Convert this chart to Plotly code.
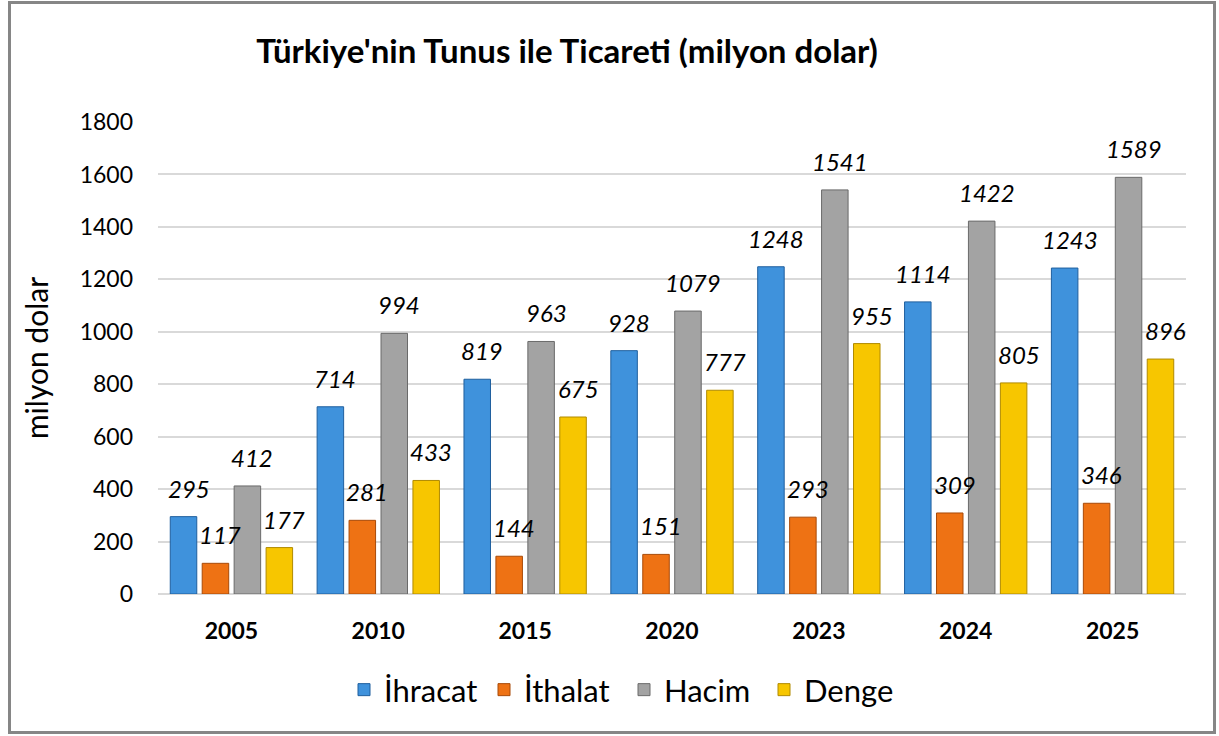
import plotly.graph_objects as go

years = ["2005", "2010", "2015", "2020", "2023", "2024", "2025"]
ihracat = [295, 714, 819, 928, 1248, 1114, 1243]
ithalat = [117, 281, 144, 151, 293, 309, 346]
hacim = [412, 994, 963, 1079, 1541, 1422, 1589]
denge = [177, 433, 675, 777, 955, 805, 896]

series = [
    ("İhracat", ihracat, "#3F92DC", "#1F5F9E"),
    ("İthalat", ithalat, "#EE7214", "#A84A08"),
    ("Hacim", hacim, "#A3A3A3", "#6A6A6A"),
    ("Denge", denge, "#F7C600", "#B08A00"),
]

W, H = 1219, 736
L, R, T, B = 158, 33, 122, 142
bargap, bargroupgap = 0.13, 0.17
FONT = "Lato"

fig = go.Figure()
for name, vals, col, edge in series:
    fig.add_trace(go.Bar(
        x=years, y=vals, name=name,
        marker=dict(color=col, line=dict(color=edge, width=1)),
    ))

plot_w = W - L - R
cat_w = plot_w / len(years)
step = cat_w * (1 - bargap) / len(series)
annotations = []
for j, (name, vals, col, edge) in enumerate(series):
    for i, v in enumerate(vals):
        annotations.append(dict(
            x=i, y=v, xref="x", yref="y", text=str(v), showarrow=False,
            xshift=(j - 1.5) * step + 5, yshift=12, yanchor="bottom",
            font=dict(family=FONT, size=24, color="#000000", style="italic"),
        ))

plot_h = H - T - B
def px_to_paper_x(px):
    return (px - L) / plot_w
def px_to_paper_y(py):
    return (H - B - py) / plot_h

fig.update_layout(
    width=W, height=H,
    margin=dict(l=L, r=R, t=T, b=B),
    paper_bgcolor="white", plot_bgcolor="white",
    title=dict(text="<b>Türkiye'nin Tunus ile Ticareti (milyon dolar)</b>",
               x=567 / W, xanchor="center", y=1 - 51 / H, yanchor="middle",
               font=dict(family=FONT, size=33, color="#000000")),
    barmode="group", bargap=bargap, bargroupgap=bargroupgap,
    showlegend=True,
    legend=dict(orientation="h", x=px_to_paper_x(624), xanchor="center",
                y=px_to_paper_y(690), yanchor="middle",
                font=dict(family=FONT, size=31, color="#000000"),
                itemwidth=30, entrywidth=95, entrywidthmode="pixels",
                traceorder="normal"),
    xaxis=dict(type="category", range=[-0.5, len(years) - 0.5],
               showgrid=False, showline=False, ticks="",
               tickfont=dict(family=FONT, size=23, color="#000000", weight="bold"),
               ticklabelstandoff=21),
    yaxis=dict(range=[0, 1800], dtick=200, showgrid=True, gridcolor="#D9D9D9",
               gridwidth=1.5, zeroline=True, zerolinecolor="#D9D9D9", zerolinewidth=1.5,
               ticks="", tickfont=dict(family=FONT, size=23, color="#000000"),
               ticklabelstandoff=24,
               title=dict(text="milyon dolar", standoff=22,
                          font=dict(family=FONT, size=30, color="#000000"))),
    annotations=annotations,
    shapes=[dict(type="rect", xref="paper", yref="paper",
                 x0=px_to_paper_x(9.5), x1=px_to_paper_x(1214.5),
                 y0=px_to_paper_y(732.5), y1=px_to_paper_y(2.5),
                 line=dict(color="#868686", width=3), fillcolor="rgba(0,0,0,0)",
                 layer="above")],
)

fig.write_html("out.html")
